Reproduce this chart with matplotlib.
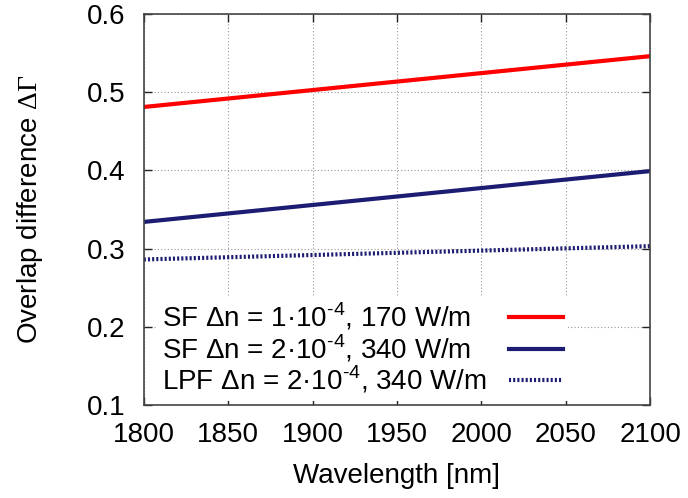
import numpy as np
import matplotlib
matplotlib.use("Agg")
import matplotlib.pyplot as plt

plt.rcParams['font.family'] = ['Liberation Sans', 'DejaVu Sans']
plt.rcParams['mathtext.fontset'] = 'custom'
plt.rcParams['mathtext.rm'] = 'Liberation Serif'
plt.rcParams['mathtext.sf'] = 'Liberation Sans'

# data
wavelength = [1800, 2100]
sf_1e4 = [0.481, 0.546]
sf_2e4 = [0.334, 0.399]
lpf_2e4 = [0.286, 0.303]

labels = ['SF Δn = 1·10$^{\\mathsf{\u20104}}$, 170 W/m',
          'SF Δn = 2·10$^{\\mathsf{\u20104}}$, 340 W/m',
          'LPF Δn = 2·10$^{\\mathsf{\u20104}}$, 340 W/m']
xticks = [1800, 1850, 1900, 1950, 2000, 2050, 2100]
yticks = [0.1, 0.2, 0.3, 0.4, 0.5, 0.6]

fig = plt.figure(figsize=(6.88, 4.98), dpi=100)
ax = fig.add_axes([0.209, 0.187, 0.736, 0.785])

ax.plot(wavelength, sf_1e4, color='#ff0000', lw=3, label=labels[0])
ax.plot(wavelength, sf_2e4, color='#1c1c72', lw=3, label=labels[1])
ax.plot(wavelength, lpf_2e4, color='#1c1c72', lw=3, ls=(0, (0.5, 0.5)),
        label=labels[2])

ax.set_xlim(1800, 2100)
ax.set_ylim(0.1, 0.6)
ax.set_xticks(xticks)
ax.set_yticks(yticks)
ax.set_xticklabels([str(t) for t in xticks])
ax.set_yticklabels(['%.1f' % t for t in yticks])
ax.grid(True, color='#999999', ls=(0, (1, 2)), lw=0.8)
ax.tick_params(direction='in', length=6, width=1, top=True, right=True,
               labelsize=20, color='#222222')
ax.tick_params(axis='x', pad=12)
ax.tick_params(axis='y', pad=13)
for s in ax.spines.values():
    s.set_color('#444444')
    s.set_linewidth(1.2)

ax.set_xlabel('Wavelength [nm]', fontsize=20, labelpad=11)
ax.set_ylabel(r'Overlap difference $\Delta\Gamma$', fontsize=20, labelpad=30)

leg = ax.legend(loc='lower left', bbox_to_anchor=(0.026, 0.0102), borderaxespad=0.0,
                markerfirst=False, fontsize=20, handlelength=1.95,
                labelspacing=0.0, borderpad=0.18, frameon=True,
                fancybox=False, facecolor='white', edgecolor='none',
                framealpha=1.0)
# keep labels left and line samples right, like gnuplot
for col in leg._legend_handle_box.get_children():
    for row in col.get_children():
        row.mode = 'expand'
        row.width = 401

fig.savefig('out.png', dpi=100)
